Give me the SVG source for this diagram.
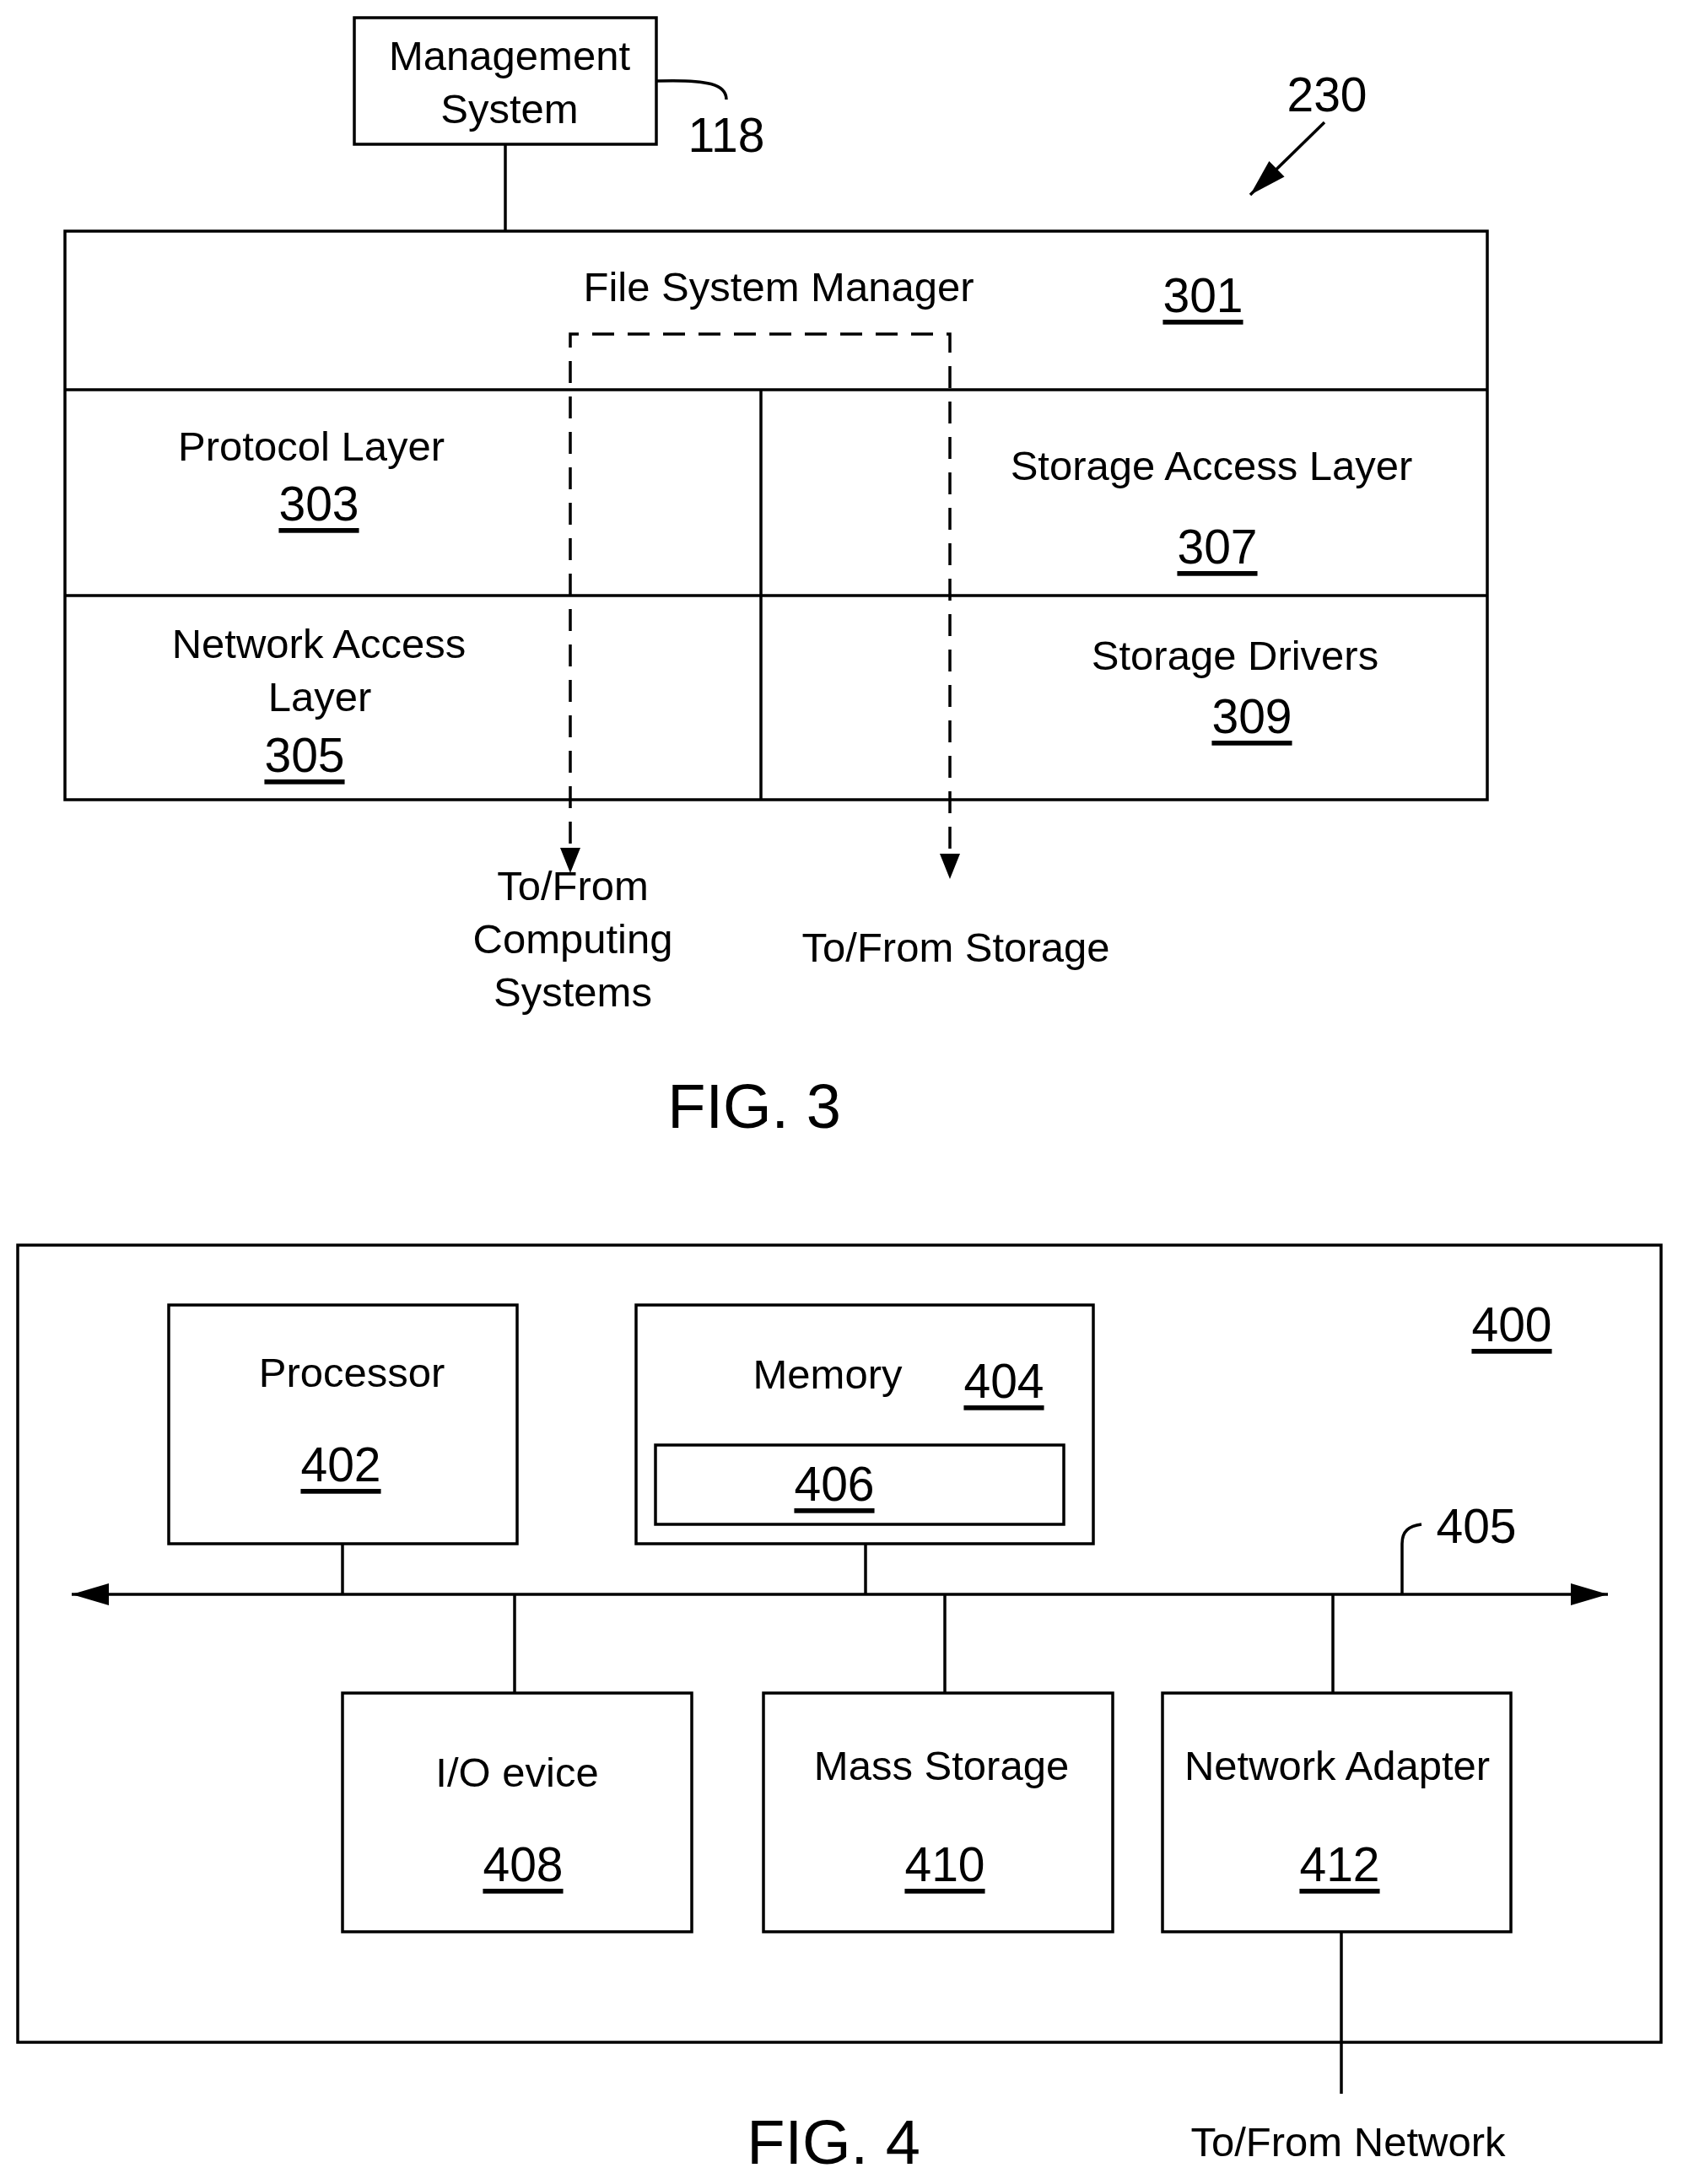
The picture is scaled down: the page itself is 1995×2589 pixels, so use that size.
<svg xmlns="http://www.w3.org/2000/svg" width="1995" height="2589" viewBox="0 0 1995 2589">
<style>
text{font-family:"Liberation Sans",Arial,sans-serif;font-size:49px;fill:#000;text-anchor:middle;dominant-baseline:central}
.n{font-size:57px;text-decoration:underline}
.f{font-size:74px}
.b{fill:#fff;stroke:#000;stroke-width:3.5}
.l{fill:none;stroke:#000;stroke-width:3.5}
.d{fill:none;stroke:#000;stroke-width:3.5;stroke-dasharray:26 16}
</style>
<defs>
<marker id="A" markerWidth="44" markerHeight="26" refX="44" refY="13" orient="auto-start-reverse" markerUnits="userSpaceOnUse"><path d="M0,0L44,13L0,26z"/></marker></defs>
<g id="connectors">
<line class="l" x1="599" y1="171" x2="599" y2="274"/>
<path class="l" d="M778,96 C840,94 861,100 861,118"/>
<line class="l" x1="1570" y1="145" x2="1482" y2="231" marker-end="url(#A)"/>
<line class="l" x1="85" y1="1890" x2="1906" y2="1890" marker-start="url(#A)" marker-end="url(#A)"/>
<line class="l" x1="406" y1="1830" x2="406" y2="1890"/>
<line class="l" x1="1026" y1="1830" x2="1026" y2="1890"/>
<line class="l" x1="610" y1="1890" x2="610" y2="2007"/>
<line class="l" x1="1120" y1="1890" x2="1120" y2="2007"/>
<line class="l" x1="1580" y1="1890" x2="1580" y2="2007"/>
<path class="l" d="M1662,1890 V1830 C1662,1815 1670,1809 1685,1807"/>
<line class="l" x1="1590" y1="2290" x2="1590" y2="2482"/>
</g>
<g id="mgmt"><rect class="b" x="420" y="21" width="358" height="150"/><text x="604" y="66">Management</text><text x="604" y="129">System</text></g>
<text x="861" y="160" style="font-size:57px">118</text>
<text x="1573" y="112" style="font-size:57px">230</text>
<g id="fs"><rect class="b" x="77" y="274" width="1686" height="674"/>
<line class="l" x1="77" y1="462" x2="1763" y2="462"/><line class="l" x1="77" y1="706" x2="1763" y2="706"/><line class="l" x1="902" y1="462" x2="902" y2="948"/>
<text x="923" y="340">File System Manager</text><text class="n" x="1426" y="350">301</text></g>
<g id="dashed"><path class="d" d="M676,1000 V396 H1126 V1010"/>
<path d="M664,1005 L688,1005 L676,1035z"/>
<path d="M1114,1012 L1138,1012 L1126,1042z"/></g>
<g id="proto"><text x="369" y="529">Protocol Layer</text><text class="n" x="378" y="597">303</text></g>
<g id="sal"><text x="1436" y="552">Storage Access Layer</text><text class="n" x="1443" y="648">307</text></g>
<g id="nal"><text x="378" y="763">Network Access</text><text x="379" y="826">Layer</text><text class="n" x="361" y="895">305</text></g>
<g id="sd"><text x="1464" y="777">Storage Drivers</text><text class="n" x="1484" y="849">309</text></g>
<text x="679" y="1050">To/From</text><text x="679" y="1113">Computing</text><text x="679" y="1176">Systems</text>
<text x="1133" y="1123">To/From Storage</text>
<text class="f" x="894" y="1311">FIG. 3</text>
<g id="sys400"><rect class="b" x="21" y="1476" width="1948" height="945" style="fill:none"/><text class="n" x="1792" y="1570">400</text></g>
<g id="proc"><rect class="b" x="200" y="1547" width="413" height="283"/><text x="417" y="1627">Processor</text><text class="n" x="404" y="1736">402</text></g>
<g id="mem"><rect class="b" x="754" y="1547" width="542" height="283"/><text x="981" y="1629">Memory</text><text class="n" x="1190" y="1637">404</text>
<rect class="b" x="777" y="1713" width="484" height="94"/><text class="n" x="989" y="1759">406</text></g>
<text x="1750" y="1809" style="font-size:57px">405</text>
<g id="io"><rect class="b" x="406" y="2007" width="414" height="283"/><text x="613" y="2101">I/O evice</text><text class="n" x="620" y="2210">408</text></g>
<g id="mass"><rect class="b" x="905" y="2007" width="414" height="283"/><text x="1116" y="2093">Mass Storage</text><text class="n" x="1120" y="2210">410</text></g>
<g id="net"><rect class="b" x="1378" y="2007" width="413" height="283"/><text x="1585" y="2093">Network Adapter</text><text class="n" x="1588" y="2210">412</text></g>
<text x="1598" y="2539">To/From Network</text>
<text class="f" x="988" y="2539">FIG. 4</text>
</svg>
